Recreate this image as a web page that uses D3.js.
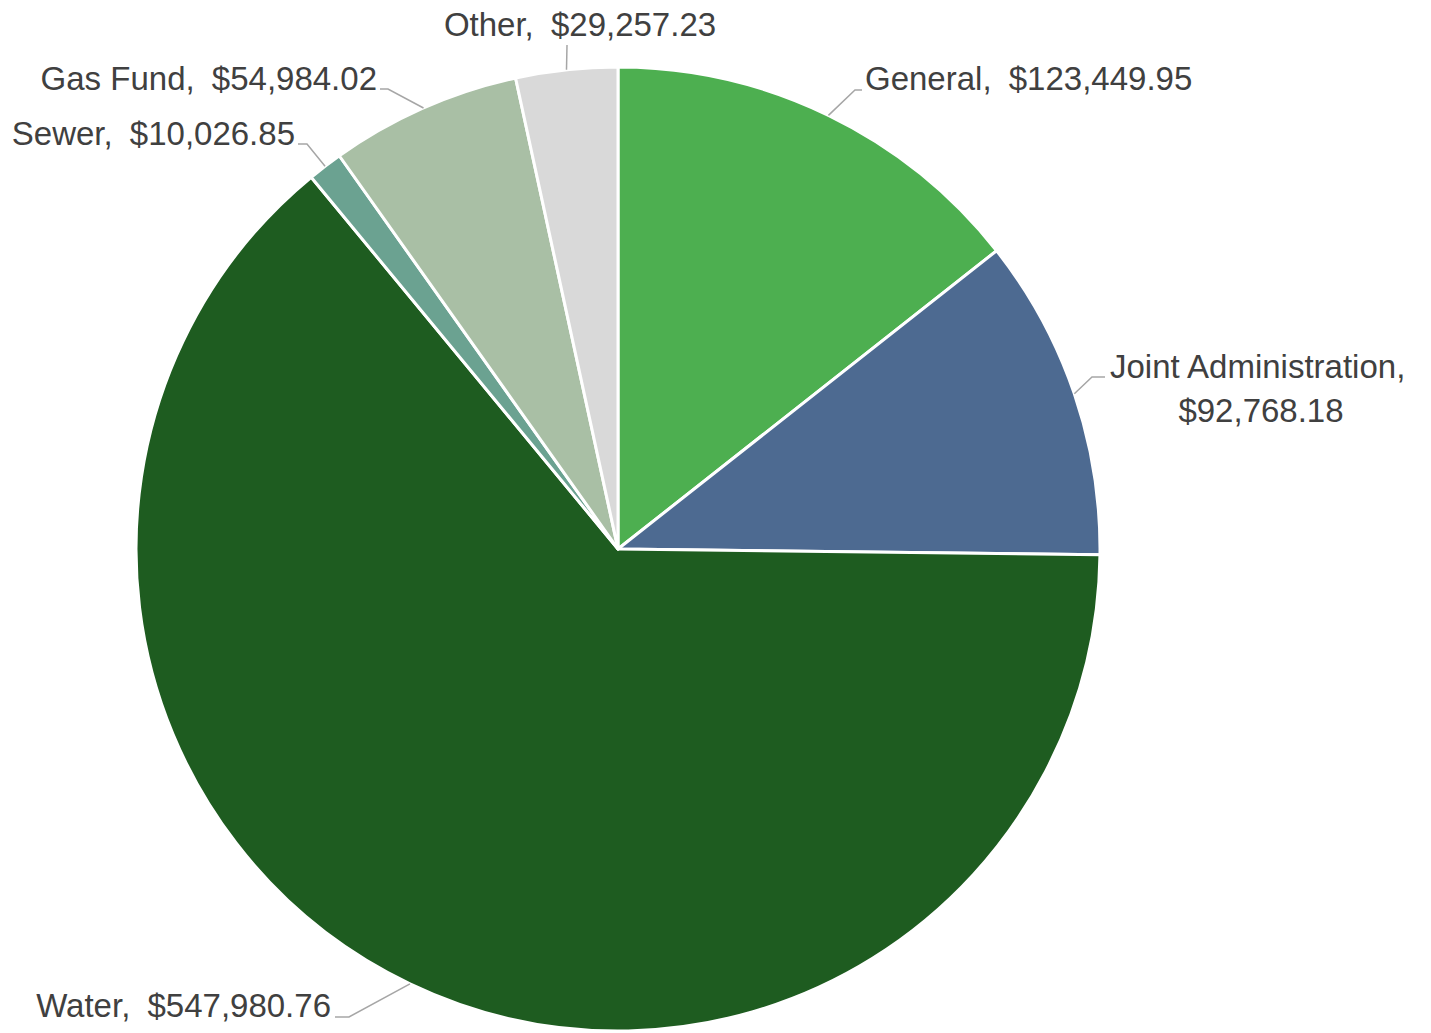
<!DOCTYPE html>
<html>
<head>
<meta charset="utf-8">
<script src="https://cdn.jsdelivr.net/npm/d3@7"></script>
<style>
  html, body { margin: 0; padding: 0; background: #ffffff; }
  svg { display: block; }
  text { font-family: "Liberation Sans", Arial, sans-serif; font-size: 33px; fill: #404040; }
</style>
</head>
<body>
<svg id="chart" width="1431" height="1033"></svg>
<script>
// ---- Data ----
const categories = ["General", "Joint Administration", "Water", "Sewer", "Gas Fund", "Other"];
const values = [123449.95, 92768.18, 547980.76, 10026.85, 54984.02, 29257.23];
const colors = ["#4DAF50", "#4D6A91", "#1E5C20", "#6BA291", "#A9BFA5", "#D9D9D9"];

// ---- Layout (label placement: leader elbow/end points and text anchors) ----
const labelLayout = [
  { pts: [[855, 90], [862, 90]], x: 865, y: 90, anchor: "start" },
  { pts: [[1092, 377], [1105, 377]], x: 1110, y: 378, anchor: "start", second: { x: 1261, y: 422 } },
  { pts: [[349, 1017], [335, 1017]], x: 331, y: 1017, anchor: "end" },
  { pts: [[307, 144], [298, 144]], x: 295, y: 145, anchor: "end" },
  { pts: [[388, 89], [380, 89]], x: 377, y: 90, anchor: "end" },
  { pts: [[567, 45]], x: 580, y: 36, anchor: "middle" }
];
const valueGap = 8;

const cx = 618, cy = 549, R = 482;
const fmt = d3.format("$,.2f");

const svg = d3.select("#chart");
const g = svg.append("g").attr("transform", `translate(${cx},${cy})`);

const pie = d3.pie().sort(null).value(d => d.value);
const data = categories.map((c, i) => ({ name: c, value: values[i], color: colors[i], layout: labelLayout[i] }));
const arcs = pie(data);

const arc = d3.arc().innerRadius(0).outerRadius(R);
const edgeArc = d3.arc().innerRadius(R).outerRadius(R);

g.selectAll("path.slice")
  .data(arcs)
  .join("path")
  .attr("class", "slice")
  .attr("d", arc)
  .attr("fill", d => d.data.color)
  .attr("stroke", "#ffffff")
  .attr("stroke-width", 3)
  .attr("stroke-linejoin", "round");

// leader lines
const line = d3.line();
svg.selectAll("path.leader")
  .data(arcs)
  .join("path")
  .attr("class", "leader")
  .attr("d", d => {
    const c = edgeArc.centroid(d);
    const start = [cx + c[0], cy + c[1]];
    return line([start, ...d.data.layout.pts]);
  })
  .attr("fill", "none")
  .attr("stroke", "#A6A6A6")
  .attr("stroke-width", 1.5);

// labels
arcs.forEach(d => {
  const L = d.data.layout;
  if (L.second) {
    svg.append("text").attr("x", L.x).attr("y", L.y).attr("text-anchor", L.anchor).text(d.data.name + ",");
    svg.append("text").attr("x", L.second.x).attr("y", L.second.y).attr("text-anchor", "middle").text(fmt(d.data.value));
  } else {
    const t = svg.append("text").attr("x", L.x).attr("y", L.y).attr("text-anchor", L.anchor);
    t.append("tspan").text(d.data.name + ",");
    t.append("tspan").attr("dx", valueGap).text(" " + fmt(d.data.value));
  }
});
</script>
</body>
</html>
